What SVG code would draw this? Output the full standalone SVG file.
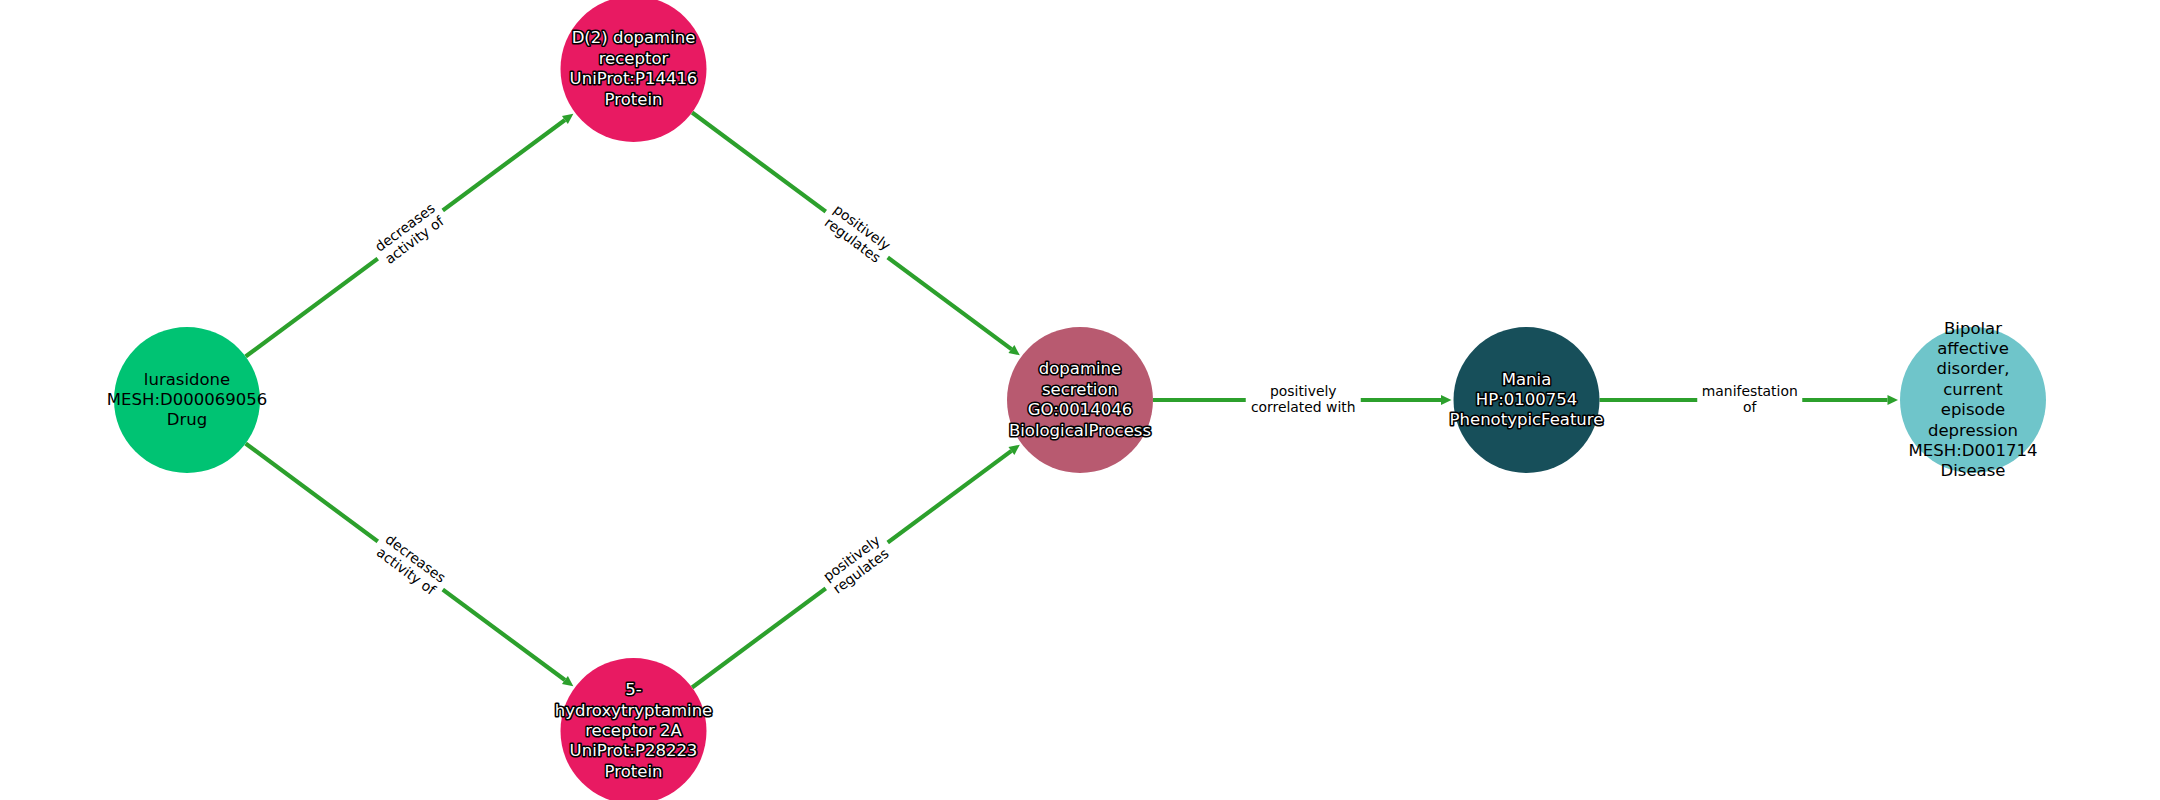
<svg xmlns="http://www.w3.org/2000/svg" width="2160" height="800" viewBox="0 0 2160 800">
<style>
.edge{stroke:#2ca02c;stroke-width:4.2;fill:none;marker-end:url(#ah)}
.lbox{fill:#ffffff;stroke:none}
.elabel{font-family:"DejaVu Sans",sans-serif;font-size:13.9px;fill:#000000;text-anchor:middle}
.nlabel{font-family:"DejaVu Sans",sans-serif;font-size:16.5px;text-anchor:middle}
.dark{fill:#ffffff;stroke:#000000;stroke-width:3.2;stroke-linejoin:round;paint-order:stroke}
.light{fill:#000000}
</style>
<defs>
<marker id="ah" markerUnits="userSpaceOnUse" markerWidth="12" markerHeight="12" refX="0" refY="5" orient="auto" overflow="visible">
<path d="M0,0 L10.5,5 L0,10 z" fill="#2ca02c"/>
</marker>
</defs>
<rect width="2160" height="800" fill="#ffffff"/>
<g id="edges">
<path class="edge" d="M245.6,356.5 L564.9,120"/>
<path class="edge" d="M245.6,443.5 L564.9,680"/>
<path class="edge" d="M692.1,112.5 L1011.4,349.1"/>
<path class="edge" d="M692.1,687.5 L1011.4,450.9"/>
<path class="edge" d="M1153,400 L1441,400"/>
<path class="edge" d="M1599.5,400 L1887.5,400"/>
</g>
<g id="edge-labels">
<g transform="translate(410.25,234.5) rotate(-36.55)">
<rect class="lbox" x="-40.5" y="-18" width="81" height="36" rx="4"/>
<text class="elabel"><tspan x="0" y="-4">decreases</tspan><tspan x="0" y="11.7">activity of</tspan></text>
</g>
<g transform="translate(410.25,565.5) rotate(36.55)">
<rect class="lbox" x="-40.5" y="-18" width="81" height="36" rx="4"/>
<text class="elabel"><tspan x="0" y="-4">decreases</tspan><tspan x="0" y="11.7">activity of</tspan></text>
</g>
<g transform="translate(856.75,234.5) rotate(36.55)">
<rect class="lbox" x="-38.5" y="-18" width="77" height="36" rx="4"/>
<text class="elabel"><tspan x="0" y="-4">positively</tspan><tspan x="0" y="11.7">regulates</tspan></text>
</g>
<g transform="translate(856.75,565.5) rotate(-36.55)">
<rect class="lbox" x="-38.5" y="-18" width="77" height="36" rx="4"/>
<text class="elabel"><tspan x="0" y="-4">positively</tspan><tspan x="0" y="11.7">regulates</tspan></text>
</g>
<g transform="translate(1303.25,400)">
<rect class="lbox" x="-57.5" y="-18" width="115" height="36" rx="4"/>
<text class="elabel"><tspan x="0" y="-4">positively</tspan><tspan x="0" y="11.7">correlated with</tspan></text>
</g>
<g transform="translate(1749.75,400)">
<rect class="lbox" x="-52.5" y="-18" width="105" height="36" rx="4"/>
<text class="elabel"><tspan x="0" y="-4">manifestation</tspan><tspan x="0" y="11.7">of</tspan></text>
</g>
</g>
<g id="node-lurasidone">
<circle cx="187" cy="400" r="73" fill="#00c373"/>
<text class="nlabel light"><tspan x="187" y="384.6">lurasidone</tspan><tspan x="187" y="405">MESH:D000069056</tspan><tspan x="187" y="425.4">Drug</tspan></text>
</g>
<g id="node-d2">
<circle cx="633.5" cy="69" r="73" fill="#e81a62"/>
<text class="nlabel dark"><tspan x="633.5" y="43.4">D(2) dopamine</tspan><tspan x="633.5" y="63.8">receptor</tspan><tspan x="633.5" y="84.2">UniProt:P14416</tspan><tspan x="633.5" y="104.6">Protein</tspan></text>
</g>
<g id="node-5ht2a">
<circle cx="633.5" cy="731" r="73" fill="#e81a62"/>
<text class="nlabel dark"><tspan x="633.5" y="695.2">5-</tspan><tspan x="633.5" y="715.6">hydroxytryptamine</tspan><tspan x="633.5" y="736">receptor 2A</tspan><tspan x="633.5" y="756.4">UniProt:P28223</tspan><tspan x="633.5" y="776.8">Protein</tspan></text>
</g>
<g id="node-dopamine-secretion">
<circle cx="1080" cy="400" r="73" fill="#b85a70"/>
<text class="nlabel dark"><tspan x="1080" y="374.4">dopamine</tspan><tspan x="1080" y="394.8">secretion</tspan><tspan x="1080" y="415.2">GO:0014046</tspan><tspan x="1080" y="435.6">BiologicalProcess</tspan></text>
</g>
<g id="node-mania">
<circle cx="1526.5" cy="400" r="73" fill="#174f5a"/>
<text class="nlabel dark"><tspan x="1526.5" y="384.6">Mania</tspan><tspan x="1526.5" y="405">HP:0100754</tspan><tspan x="1526.5" y="425.4">PhenotypicFeature</tspan></text>
</g>
<g id="node-bipolar">
<circle cx="1973" cy="400" r="73" fill="#6fc5ca"/>
<text class="nlabel light"><tspan x="1973" y="333.6">Bipolar</tspan><tspan x="1973" y="354">affective</tspan><tspan x="1973" y="374.4">disorder,</tspan><tspan x="1973" y="394.8">current</tspan><tspan x="1973" y="415.2">episode</tspan><tspan x="1973" y="435.6">depression</tspan><tspan x="1973" y="456">MESH:D001714</tspan><tspan x="1973" y="476.4">Disease</tspan></text>
</g>
</svg>
